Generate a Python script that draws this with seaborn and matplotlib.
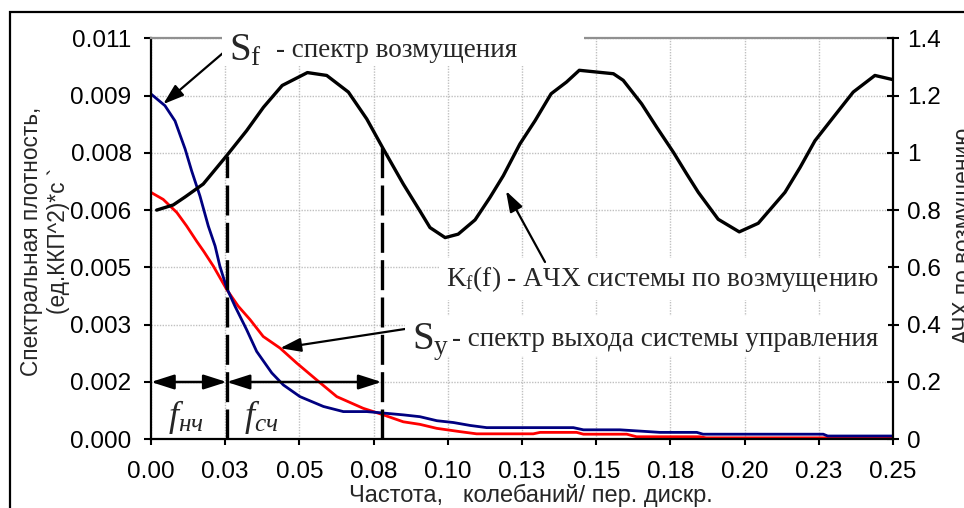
import numpy as np
import pandas as pd
import matplotlib
matplotlib.use("Agg")
import matplotlib.pyplot as plt
import seaborn as sns
from matplotlib.patches import Rectangle
from matplotlib.transforms import IdentityTransform

# ---------------- data ----------------
sf_freq = [0, 0.0047, 0.0081, 0.0115, 0.0137, 0.0165, 0.0193, 0.0216, 0.0232, 0.0255,
           0.0283, 0.0322, 0.0356, 0.0407, 0.0446, 0.0502, 0.0581, 0.0648, 0.0727, 0.0783,
           0.085, 0.0906, 0.0963, 0.1019, 0.1075, 0.1131, 0.1423, 0.1457, 0.158, 0.1715,
           0.1839, 0.186, 0.2265, 0.228, 0.25]
sf_vals = [0.00947, 0.00915, 0.00873, 0.00796, 0.00736, 0.00667, 0.00585, 0.0053, 0.00475, 0.00415,
           0.00365, 0.00301, 0.00241, 0.00182, 0.00149, 0.00117, 0.0009, 0.00076, 0.00076, 0.00072,
           0.00067, 0.00062, 0.00051, 0.00046, 0.00038, 0.00032, 0.00032, 0.00026, 0.00026, 0.00019,
           0.00019, 0.00014, 0.00014, 0.00009, 0.00009]

sy_freq = [0, 0.0041, 0.0087, 0.012, 0.0154, 0.0178, 0.021, 0.0255, 0.0294, 0.0334,
           0.0378, 0.0435, 0.0491, 0.0558, 0.0626, 0.0715, 0.0783, 0.085, 0.0906, 0.0963,
           0.1041, 0.1097, 0.1288, 0.1311, 0.1434, 0.1457, 0.1603, 0.1636, 0.185, 0.187, 0.25]
sy_vals = [0.00677, 0.00658, 0.00622, 0.00585, 0.00543, 0.00515, 0.00475, 0.00411, 0.00365, 0.00328,
           0.00282, 0.0025, 0.00209, 0.00163, 0.00117, 0.00085, 0.00067, 0.00048, 0.00041, 0.0003,
           0.00021, 0.00015, 0.00015, 0.00019, 0.00019, 0.00014, 0.00014, 0.00007, 0.00007, 0.00004, 0.00004]

k_freq = [0.0019, 0.0075, 0.0115, 0.0176, 0.0255, 0.0322, 0.0379, 0.0442, 0.0527, 0.0592,
          0.0665, 0.0727, 0.0783, 0.085, 0.0906, 0.094, 0.0991, 0.1035, 0.1092, 0.1142,
          0.1187, 0.1243, 0.1294, 0.1348, 0.140, 0.1443, 0.1558, 0.1591, 0.1653, 0.1704,
          0.176, 0.1805, 0.1844, 0.1911, 0.1982, 0.2046, 0.2136, 0.2187, 0.2237, 0.2299,
          0.2366, 0.2439, 0.2497]
k_vals = [0.80, 0.818, 0.846, 0.891, 0.990, 1.077, 1.159, 1.235, 1.280, 1.270,
          1.212, 1.118, 1.013, 0.891, 0.797, 0.739, 0.704, 0.716, 0.766, 0.844,
          0.920, 1.031, 1.112, 1.206, 1.247, 1.288, 1.276, 1.253, 1.171, 1.089,
          1.002, 0.926, 0.862, 0.768, 0.724, 0.754, 0.862, 0.949, 1.042, 1.124,
          1.212, 1.270, 1.256]

f_low = 0.0255
f_high = 0.0777

x_ticklabels = ["0.00", "0.03", "0.05", "0.08", "0.10", "0.13", "0.15", "0.18", "0.20", "0.23", "0.25"]
y_ticklabels = ["0.000", "0.002", "0.003", "0.005", "0.006", "0.008", "0.009", "0.011"]
y2_ticklabels = ["0", "0.2", "0.4", "0.6", "0.8", "1", "1.2", "1.4"]

# ---------------- figure ----------------
sns.set_theme(style="white")
plt.rcParams["font.family"] = ["Liberation Sans", "DejaVu Sans"]
SERIF = ["Liberation Serif", "DejaVu Serif"]

W, H = 964, 508
fig = plt.figure(figsize=(W / 100, H / 100), dpi=100)
fig.patch.set_facecolor("white")

x0, x1, ytop, ybot = 151, 893, 38.2, 439.3
ax = fig.add_axes([x0 / W, (H - ybot) / H, (x1 - x0) / W, (ybot - ytop) / H])

df_sy = pd.DataFrame({"f": sy_freq, "v": sy_vals})
df_sf = pd.DataFrame({"f": sf_freq, "v": sf_vals})
df_k = pd.DataFrame({"f": k_freq, "k": k_vals})

sns.lineplot(data=df_sy, x="f", y="v", ax=ax, color="#ff0000", lw=2.0, estimator=None, sort=False)
sns.lineplot(data=df_sf, x="f", y="v", ax=ax, color="#000080", lw=2.0, estimator=None, sort=False)

ax.set_xlim(0, 0.25)
ax.set_ylim(0, 0.011)
ax.set_xticks(np.linspace(0, 0.25, len(x_ticklabels)))
ax.set_xticklabels(x_ticklabels)
ax.set_yticks(np.linspace(0, 0.011, len(y_ticklabels)))
ax.set_yticklabels(y_ticklabels)
ax.grid(True, color="#c0c0c0", ls=(0, (1, 1)), lw=1.0)
ax.set_xlabel("")
ax.set_ylabel("")

for s in ["left", "bottom"]:
    ax.spines[s].set_color("black")
    ax.spines[s].set_linewidth(1.6)
ax.spines["top"].set_color("#909090")
ax.spines["top"].set_linewidth(1.6)
ax.spines["right"].set_visible(False)
ax.tick_params(axis="y", left=True, direction="out", length=5, width=1.5, labelsize=17.5, pad=9, colors="black")
ax.tick_params(axis="x", bottom=True, direction="out", length=4.5, width=1.5, labelsize=17.5, pad=11, colors="black")

ax2 = ax.twinx()
sns.lineplot(data=df_k, x="f", y="k", ax=ax2, color="black", lw=2.4, estimator=None, sort=False, zorder=5)
ax2.set_ylim(0, 1.4)
ax2.set_yticks(np.linspace(0, 1.4, len(y2_ticklabels)))
ax2.set_yticklabels(y2_ticklabels)
ax2.set_ylabel("")
ax2.grid(False)
for s in ["left", "bottom", "top"]:
    ax2.spines[s].set_visible(False)
ax2.spines["right"].set_color("black")
ax2.spines["right"].set_linewidth(1.6)
ax2.tick_params(axis="y", right=True, direction="inout", length=8.4, width=1.5, labelsize=17.5, pad=6, colors="black")

# dashed cut-off lines (from 0 up to the K curve)
for fc in (f_low, f_high):
    ktop = np.interp(fc, k_freq, k_vals)
    ax2.plot([fc, fc], [0, ktop], color="black", lw=2.4, ls=(0, (9, 2.2)), zorder=4)

# double arrows for frequency bands
ya = 0.011 / 7
arr2 = dict(arrowstyle="<|-|>,head_length=1.0,head_width=0.32", color="black", lw=1.8,
            mutation_scale=14, shrinkA=0, shrinkB=0)
ax.annotate("", xy=(0, ya), xytext=(f_low, ya), arrowprops=arr2, zorder=6)
ax.annotate("", xy=(f_low, ya), xytext=(f_high, ya), arrowprops=arr2, zorder=6)

PX = IdentityTransform()
def P(x, y):
    return (x, H - y)

ax2.text(*P(168, 426), r"$\mathregular{f_{нч}}$", transform=PX, fontsize=26, family=SERIF,
         style="italic", ha="left", va="baseline")
ax2.text(*P(244, 426), r"$\mathregular{f_{сч}}$", transform=PX, fontsize=26, family=SERIF,
         style="italic", ha="left", va="baseline")

# white label backgrounds
for (bx0, by0, bx1, by1) in [(222, 28, 584, 66), (440, 258, 888, 300), (405, 316, 888, 356)]:
    ax2.add_patch(Rectangle(P(bx0, by1), bx1 - bx0, by1 - by0, transform=PX,
                            facecolor="white", edgecolor="none", zorder=3, clip_on=False))

arr1 = dict(arrowstyle="-|>,head_length=0.9,head_width=0.3", color="black", lw=1.6,
            mutation_scale=14, shrinkA=0, shrinkB=0)
# S_f annotation
tip_f = 0.0041
ax.annotate("", xy=(tip_f, np.interp(tip_f, sf_freq, sf_vals)), xytext=P(223, 53),
            textcoords="figure pixels", arrowprops=arr1, annotation_clip=False)
ax2.text(*P(229, 60), r"$\mathregular{S_f}$", transform=PX, fontsize=28, family=SERIF,
         ha="left", va="baseline", zorder=7)
ax2.text(*P(276, 57), "- спектр возмущения", transform=PX, fontsize=19.5, family=SERIF,
         ha="left", va="baseline", zorder=7)

# K_f annotation
ax2.annotate("", xy=(0.1196, 0.867), xytext=P(545, 262), textcoords="figure pixels",
             arrowprops=arr1, annotation_clip=False, zorder=6)
ax2.text(*P(446, 286), r"K$\mathregular{_f}$(f) - АЧХ системы по возмущению", transform=PX,
         fontsize=19.6, family=SERIF, ha="left", va="baseline", zorder=7)

# S_y annotation
tip_y = 0.0435
ax.annotate("", xy=(tip_y, np.interp(tip_y, sy_freq, sy_vals)), xytext=P(405, 329),
            textcoords="figure pixels", arrowprops=arr1, annotation_clip=False)
ax2.text(*P(412, 349), r"$\mathregular{S_y}$", transform=PX, fontsize=28, family=SERIF,
         ha="left", va="baseline", zorder=7)
ax2.text(*P(452, 346), "- спектр выхода системы управления", transform=PX, fontsize=19.5,
         family=SERIF, ha="left", va="baseline", zorder=7)

# axis titles
fig.text(531 / W, 1 - 495 / H, "Частота,   колебаний/ пер. дискр.", ha="center", va="center",
         fontsize=17)
fig.text(45 / W, 1 - 241 / H, "Спектральная плотность,\n(ед.ККП^2)*с `", rotation=90,
         ha="center", va="center", multialignment="center", fontsize=16.3, linespacing=1.25)
fig.text(952 / W, 1 - 236 / H, "АЧХ по возмущению", rotation=90, ha="left", va="center", fontsize=16.3)

# outer chart border (partially outside the image)
fig.patches.append(Rectangle((10 / W, -0.2), 1.5, 1.2 - 12 / H, transform=fig.transFigure,
                             fill=False, edgecolor="black", lw=1.6, zorder=0))

fig.savefig("out.png", dpi=100)
